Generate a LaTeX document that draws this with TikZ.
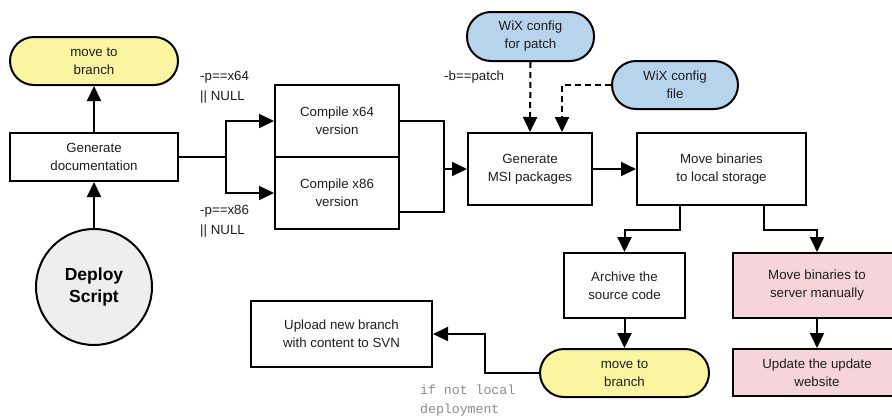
\documentclass[tikz,border=0pt]{standalone}
\usepackage{fontspec}
\setmainfont{Liberation Sans}
\newfontfamily\monofam{Liberation Mono}
\usetikzlibrary{arrows.meta}
\definecolor{yel}{RGB}{250,245,160}
\definecolor{blu}{RGB}{184,212,236}
\definecolor{pnk}{RGB}{245,212,218}
\definecolor{gry}{RGB}{238,238,238}
\definecolor{txt}{RGB}{30,30,30}
\definecolor{mono}{RGB}{140,140,140}
\tikzset{
  box/.style={draw=black, line width=2pt, align=center, inner sep=0pt, text=txt,
    font=\fontsize{13.3}{18}\selectfont},
  pill/.style={box, rounded corners=24pt},
  lbl/.style={anchor=west, align=left, inner sep=0pt, text=txt,
    font=\fontsize{13.3}{20}\selectfont},
  conn/.style={line width=2pt, -{Triangle[length=15pt,width=14pt]}},
  plain/.style={line width=2pt},
  dashconn/.style={conn, dash pattern=on 6pt off 4pt}
}
\begin{document}
\begin{tikzpicture}[x=1pt,y=-1pt]
\useasboundingbox (0,0) rectangle (892,418);
\clip (0,0) rectangle (892,418);
% nodes
\node[pill, fill=yel, minimum width=168pt, minimum height=48pt] (mvA) at (94,61) {move to\\branch};
\node[box, minimum width=168pt, minimum height=48pt] (gendoc) at (94,157) {Generate\\documentation};
\node[circle, draw=black, line width=2pt, fill=gry, minimum size=116pt, inner sep=0pt, align=center,
  font=\fontsize{17.5}{22}\selectfont\bfseries] (deploy) at (94,287) {Deploy\\Script};
\node[box, minimum width=124pt, minimum height=72pt] (c64) at (337,121) {Compile x64\\version};
\node[box, minimum width=124pt, minimum height=72pt] (c86) at (337,193) {Compile x86\\version};
\node[box, minimum width=124pt, minimum height=72pt] (msi) at (530,169) {Generate\\MSI packages};
\node[box, minimum width=169pt, minimum height=72pt] (mvb) at (721.5,169) {Move binaries\\to local storage};
\node[pill, fill=blu, minimum width=127pt, minimum height=49pt] (wixp) at (530.5,36.5) {WiX config\\for patch};
\node[pill, fill=blu, minimum width=126pt, minimum height=48pt] (wixf) at (675,85) {WiX config\\file};
\node[box, minimum width=121pt, minimum height=65pt] (arch) at (624.5,285.5) {Archive the\\source code};
\node[box, fill=pnk, minimum width=168pt, minimum height=65pt] (server) at (817,285.5) {Move binaries to\\server manually};
\node[box, fill=pnk, minimum width=168pt, minimum height=47pt] (update) at (817,372.5) {Update the update\\website};
\node[pill, fill=yel, minimum width=169pt, minimum height=48pt] (mvB) at (624.5,373) {move to\\branch};
\node[box, minimum width=181pt, minimum height=66pt] (upload) at (341.5,334) {Upload new branch\\with content to SVN};
% labels
\node[lbl] (l64) at (200,87) {-p==x64\\|| NULL};
\node[lbl] (l86) at (200,221.5) {-p==x86\\|| NULL};
\node[lbl] (lb) at (444,77) {-b==patch};
\node[lbl, text=mono, font=\monofam\fontsize{13.2}{19}\selectfont] (lnl) at (420,401) {if not local\\deployment};
% junctions
\coordinate (j1) at (226,157);
\coordinate (j2) at (444,169);
% connectors
\draw[conn] (gendoc.north) -- (mvA.south);
\draw[conn] (deploy.north) -- (gendoc.south);
\draw[plain] (gendoc.east) -- (j1);
\draw[conn] (j1) |- (c64.west);
\draw[conn] (j1) |- (c86.west);
\draw[plain] (c64.east) -| (444,212) -- (c86.east |- 0,212);
\draw[conn] (j2) -- (msi.west);
\draw[conn] (msi.east) -- (mvb.west);
\draw[dashconn] (wixp.south) -- (msi.north);
\draw[dashconn] (wixf.west) -| ([xshift=32pt]msi.north);
\draw[conn] ([xshift=-42pt]mvb.south) -- ++(0,24) -| (arch.north);
\draw[conn] ([xshift=42pt]mvb.south) -- ++(0,24) -| (server.north);
\draw[conn] (arch.south) -- (mvB.north);
\draw[conn] (server.south) -- (update.north);
\draw[conn] (mvB.west) -- ++(-54,0) |- (upload.east);
\end{tikzpicture}
\end{document}
